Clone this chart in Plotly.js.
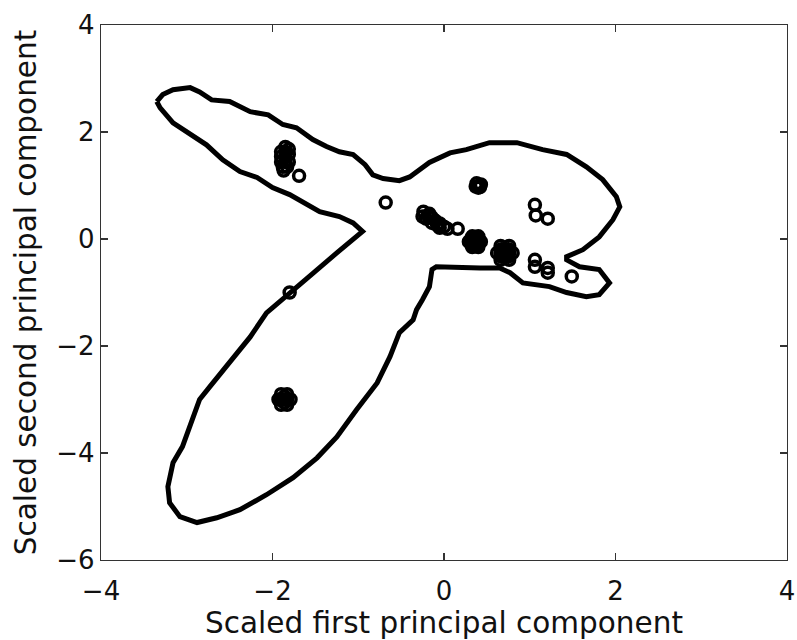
<!DOCTYPE html>
<html>
<head>
<meta charset="utf-8">
<script src="https://cdn.plot.ly/plotly-3.0.1.min.js"></script>
<style>html,body{margin:0;padding:0;background:#fff;}</style>
</head>
<body>
<div id="chart" style="width:797px;height:640px;"></div>
<script>
// Boundary contour (closed curve), scaled PC1 / PC2
const contourX = [-3.35,-3.28,-3.16,-2.96,-2.85,-2.71,-2.50,-2.26,-2.05,-1.88,-1.72,-1.53,-1.37,-1.22,-1.06,-0.92,-0.83,-0.71,-0.52,
  -0.40,-0.17,0.07,0.26,0.53,0.85,1.15,1.43,1.66,1.85,2.01,2.05,1.97,1.81,1.62,1.43,1.43,1.58,1.81,1.93,1.81,1.66,1.43,1.23,0.92,0.77,0.65,0.42,-0.09,-0.14,-0.17,-0.25,-0.32,-0.36,
  -0.52,-0.63,-0.78,-1.02,-1.25,-1.48,-1.76,-2.07,-2.38,-2.65,-2.88,-3.08,-3.20,-3.22,-3.16,-3.05,-2.93,-2.85,-2.73,-2.50,-2.26,-2.07,-1.80,-1.57,-1.25,-0.95,
  -1.06,-1.22,-1.45,-1.65,-1.80,-2.00,-2.18,-2.38,-2.58,-2.77,-2.96,-3.16,-3.31,-3.35];
const contourY = [2.57,2.70,2.79,2.83,2.75,2.60,2.57,2.38,2.32,2.14,2.08,1.86,1.73,1.63,1.58,1.39,1.20,1.13,1.09,
  1.16,1.43,1.61,1.67,1.80,1.80,1.67,1.58,1.35,1.11,0.79,0.60,0.36,0.04,-0.20,-0.33,-0.39,-0.52,-0.57,-0.82,-1.04,-1.08,-1.00,-0.89,-0.82,-0.63,-0.54,-0.54,-0.52,-0.57,-0.89,-1.13,-1.32,-1.51,
  -1.75,-2.20,-2.69,-3.19,-3.70,-4.09,-4.46,-4.78,-5.06,-5.21,-5.30,-5.19,-4.93,-4.63,-4.18,-3.88,-3.38,-3.00,-2.76,-2.31,-1.83,-1.38,-1.00,-0.70,-0.26,0.14,
  0.30,0.42,0.51,0.68,0.83,0.96,1.15,1.26,1.48,1.76,1.95,2.17,2.45,2.57];

// Observations (open circles); dense groups overlap into solid blobs
const obsX = [
  // upper-left group
  -1.85,-1.81,-1.90,-1.85,-1.81,-1.90,-1.85,-1.85,-1.90,-1.81,-1.88,-1.83,-1.87,
  -1.69,
  -0.68,
  -1.80,
  // lower group
  -1.86,-1.83,-1.90,-1.86,-1.86,-1.79,-1.83,-1.90,-1.93,-1.90,-1.83,
  // upper middle
  0.38,0.43,0.40,0.37,0.42,
  1.06,1.07,1.21,
  // diagonal group
  -0.24,-0.19,-0.21,-0.14,-0.10,-0.14,-0.05,0.00,-0.05,0.04,-0.25,-0.17,-0.08,
  0.16,
  0.36,0.40,0.32,0.36,0.36,0.43,0.40,0.33,0.29,0.33,0.40,0.40,0.32,0.40,0.32,
  0.71,0.76,0.66,0.71,0.71,0.80,0.76,0.66,0.62,0.66,0.76,0.75,0.67,0.75,0.67,
  // lower right
  1.06,1.06,1.21,1.21,1.49
];
const obsY = [
  1.72,1.68,1.63,1.63,1.58,1.54,1.54,1.44,1.44,1.44,1.35,1.35,1.28,
  1.18,
  0.68,
  -1.00,
  -3.00,-3.00,-3.00,-2.94,-3.06,-3.00,-3.10,-3.10,-3.00,-2.90,-2.90,
  1.04,1.02,0.96,0.98,0.97,
  0.64,0.44,0.38,
  0.51,0.44,0.38,0.40,0.34,0.30,0.29,0.23,0.21,0.19,0.42,0.47,0.26,
  0.19,
  -0.05,-0.05,-0.05,-0.11,0.01,-0.05,-0.15,-0.15,-0.05,0.05,0.05,-0.11,-0.11,0.01,0.01,
  -0.26,-0.26,-0.26,-0.33,-0.19,-0.26,-0.39,-0.39,-0.26,-0.13,-0.13,-0.33,-0.33,-0.19,-0.19,
  -0.39,-0.52,-0.54,-0.63,-0.70
];

const xTicks = [-4,-2,0,2,4];
const yTicks = [-6,-4,-2,0,2,4];

const traces = [
  {x: contourX, y: contourY, mode: 'lines', type: 'scatter',
   line: {color: '#000', width: 5, shape: 'linear'}, hoverinfo: 'skip'},
  {x: obsX, y: obsY, mode: 'markers', type: 'scatter',
   marker: {symbol: 'circle-open', size: 11, color: '#000', line: {width: 3.5, color: '#000'}}}
];

const axisCommon = {
  showgrid: false, zeroline: false, showline: true, linecolor: '#333', linewidth: 1.2,
  mirror: 'ticks', ticks: 'inside', ticklen: 7, tickcolor: '#333', tickwidth: 1.2,
  tickfont: {family: 'DejaVu Sans', size: 26, color: '#111'}
};

const layout = {
  width: 797, height: 640,
  margin: {l: 101, r: 10, t: 25, b: 80},
  paper_bgcolor: '#fff', plot_bgcolor: '#fff',
  showlegend: false,
  xaxis: Object.assign({}, axisCommon, {
    range: [-4, 4], tickvals: xTicks, ticktext: xTicks.map(v => v < 0 ? '\u2212' + Math.abs(v) : String(v)),
    ticklabelstandoff: 8,
    title: {text: 'Scaled first principal component', font: {family: 'DejaVu Sans', size: 29.5, color: '#111'}, standoff: 0}
  }),
  yaxis: Object.assign({}, axisCommon, {
    range: [-6, 4], tickvals: yTicks, ticktext: yTicks.map(v => v < 0 ? '\u2212' + Math.abs(v) : String(v)),
    title: {text: 'Scaled second principal component', font: {family: 'DejaVu Sans', size: 29.5, color: '#111'}, standoff: 11}
  })
};

Plotly.newPlot('chart', traces, layout, {staticPlot: true, displayModeBar: false});
</script>
</body>
</html>
